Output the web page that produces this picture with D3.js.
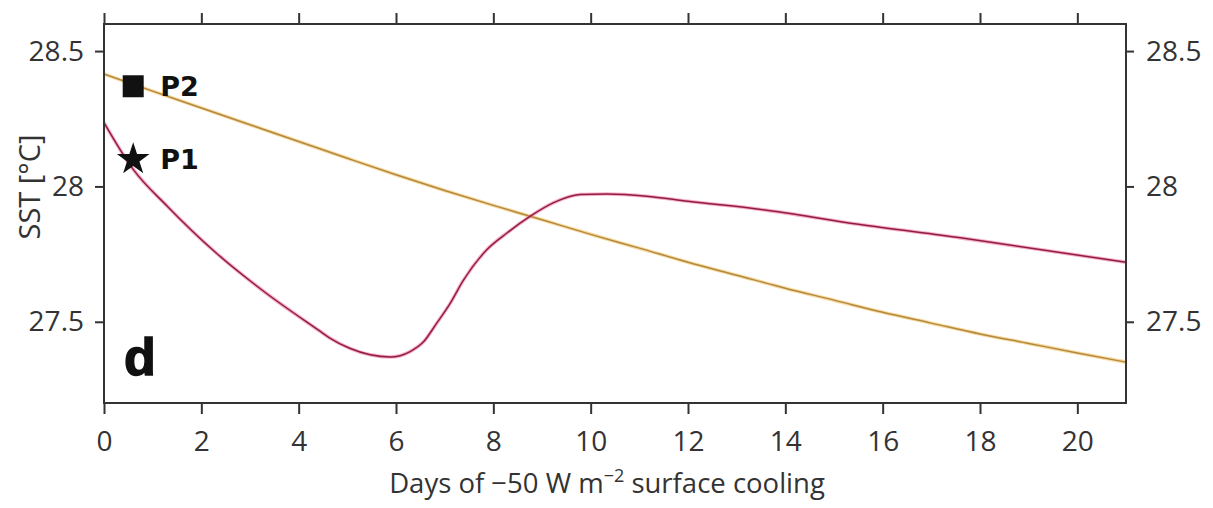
<!DOCTYPE html>
<html>
<head>
<meta charset="utf-8">
<script src="https://cdn.jsdelivr.net/npm/d3@7"></script>
<style>
  html, body { margin: 0; padding: 0; background: #fff; }
  svg { display: block; }
  .tick text { font-family: "Open Sans", sans-serif; font-size: 28px; fill: #333; }
</style>
</head>
<body>
<svg id="chart" width="1213" height="508"></svg>
<script>
// SST response to -50 W m-2 surface cooling at two sites
const p1Days = [0, 0.6, 1.3, 2.3, 3.3, 4.4, 4.64, 5.05, 5.47, 5.88, 6.29, 6.56, 6.83, 7.11, 7.38, 7.87, 8.28, 8.76, 9.24, 9.78, 10.33, 11.15, 12, 13.5, 15.5, 17.6, 21];
const p1Sst  = [28.236, 28.063, 27.927, 27.755, 27.61, 27.47, 27.44, 27.402, 27.378, 27.37, 27.39, 27.425, 27.493, 27.567, 27.652, 27.767, 27.828, 27.89, 27.94, 27.97, 27.972, 27.964, 27.945, 27.915, 27.86, 27.81, 27.72];

const p2Days = [0, 1, 2, 3, 4, 5, 6, 7, 8, 9, 10, 11, 12, 13, 14, 15, 16, 17, 18, 19, 20, 21];
const p2Sst  = [28.415, 28.352, 28.29, 28.228, 28.166, 28.104, 28.043, 27.985, 27.93, 27.877, 27.823, 27.772, 27.72, 27.672, 27.624, 27.58, 27.535, 27.495, 27.455, 27.42, 27.385, 27.351];

// marker positions for the two sites
const markerDay = [0.6, 0.6];
const markerSst = [28.1, 28.37];
const markerNames = ["P1", "P2"];

const xTicks = [0, 2, 4, 6, 8, 10, 12, 14, 16, 18, 20];
const yTicks = [27.5, 28, 28.5];
const xDomain = [0, 21];
const yDomain = [27.2, 28.6];

const svg = d3.select("#chart");
const plotL = 104, plotR = 1126, plotT = 24, plotB = 403;

const x = d3.scaleLinear().domain(xDomain).range([plotL, plotR]);
const y = d3.scaleLinear().domain(yDomain).range([plotB, plotT]);

const yFmt = d => (d === 28 ? "28" : d3.format(".1f")(d));
const axisColor = "#333";

// lines
const line = d3.line().x(d => x(d[0])).y(d => y(d[1])).curve(d3.curveMonotoneX);
const p1 = p1Days.map((d, i) => [d, p1Sst[i]]);
const p2 = p2Days.map((d, i) => [d, p2Sst[i]]);

const plot = svg.append("g");
function drawSeries(data, halo, core) {
  plot.append("path").datum(data).attr("d", line)
    .attr("fill", "none").attr("stroke", halo).attr("stroke-width", 3.6).attr("stroke-opacity", 0.5);
  plot.append("path").datum(data).attr("d", line)
    .attr("fill", "none").attr("stroke", core).attr("stroke-width", 1.5);
}
drawSeries(p2, "#f5b440", "#b08a40");
drawSeries(p1, "#f0608a", "#901c48");

// axes
function styleAxis(g) {
  g.selectAll(".domain").remove();
  g.selectAll(".tick line").attr("stroke", axisColor).attr("stroke-width", 2);
}
svg.append("g").attr("transform", `translate(0,${plotB})`)
  .call(d3.axisBottom(x).tickValues(xTicks).tickSize(11).tickPadding(17).tickFormat(d3.format("d")))
  .call(styleAxis);
svg.append("g").attr("transform", `translate(0,${plotT})`)
  .call(d3.axisTop(x).tickValues(xTicks).tickSize(11).tickFormat(""))
  .call(styleAxis);
svg.append("g").attr("transform", `translate(${plotL},0)`)
  .call(d3.axisLeft(y).tickValues(yTicks).tickSize(9).tickPadding(11).tickFormat(yFmt))
  .call(styleAxis);
svg.append("g").attr("transform", `translate(${plotR},0)`)
  .call(d3.axisRight(y).tickValues(yTicks).tickSize(8).tickPadding(12).tickFormat(yFmt))
  .call(styleAxis);

// frame
svg.append("rect").attr("x", plotL).attr("y", plotT).attr("width", plotR - plotL).attr("height", plotB - plotT)
  .attr("fill", "none").attr("stroke", axisColor).attr("stroke-width", 2);

// markers
svg.append("path")
  .attr("d", d3.symbol(d3.symbolStar, 330)())
  .attr("transform", `translate(${x(markerDay[0])},${y(markerSst[0])})`)
  .attr("fill", "#111");
svg.append("rect")
  .attr("x", x(markerDay[1]) - 10.5).attr("y", y(markerSst[1]) - 11)
  .attr("width", 21).attr("height", 22).attr("fill", "#111");

markerNames.forEach((name, i) => {
  svg.append("text")
    .attr("x", x(markerDay[i]) + 27).attr("y", y(markerSst[i]) + 10)
    .attr("font-family", "DejaVu Sans, sans-serif").attr("font-weight", "bold")
    .attr("font-size", 27).attr("fill", "#111").text(name);
});

// panel letter
svg.append("text").attr("x", 124).attr("y", 375)
  .attr("font-family", "Liberation Sans, Arial, sans-serif").attr("font-weight", "bold")
  .attr("font-size", 52).attr("fill", "#111")
  .attr("stroke", "#111").attr("stroke-width", 1.5)
  .text("d");

// axis titles
const xt = svg.append("text").attr("x", (plotL + plotR) / 2 - 8).attr("y", 493)
  .attr("text-anchor", "middle")
  .attr("font-family", "Open Sans, sans-serif").attr("font-size", 27.5).attr("fill", "#333");
xt.append("tspan").text("Days of \u221250 W m");
xt.append("tspan").attr("dy", -11).attr("font-size", 18).text("\u22122");
xt.append("tspan").attr("dy", 11).text(" surface cooling");

svg.append("text")
  .attr("transform", `translate(40,187) rotate(-90)`)
  .attr("text-anchor", "middle")
  .attr("font-family", "Open Sans, sans-serif").attr("font-size", 29).attr("fill", "#333")
  .text("SST [\u00b0C]");
</script>
</body>
</html>
